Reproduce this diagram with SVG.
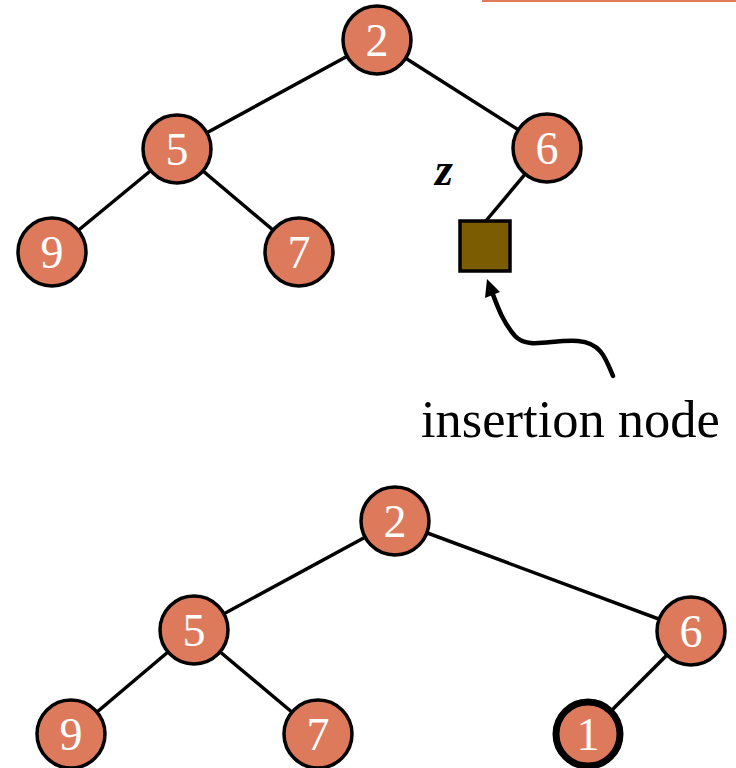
<svg xmlns="http://www.w3.org/2000/svg" width="736" height="768" viewBox="0 0 736 768">
  <style>
    .edge { stroke: #000; stroke-width: 3.5; fill: none; }
    .pointer { stroke: #000; stroke-width: 4.5; fill: none; stroke-linecap: round; }
    .node circle { fill: #DE7A5C; stroke: #000; stroke-width: 3.5; }
    .node text { font-family: "Liberation Serif", "Times New Roman", serif; font-size: 46px; fill: #fff; text-anchor: middle; }
    .node.new circle { stroke-width: 7; }
    .label { font-family: "Liberation Serif", "Times New Roman", serif; fill: #000; }
  </style>

  <!-- accent rule at the top edge -->
  <rect x="482" y="0" width="254" height="2" fill="#E07A5A"/>

  <!-- connectors -->
  <g id="connectors">
    <line class="edge" x1="377" y1="40" x2="177" y2="149"/>
    <line class="edge" x1="377" y1="40" x2="547" y2="148"/>
    <line class="edge" x1="177" y1="149" x2="52" y2="252"/>
    <line class="edge" x1="177" y1="149" x2="299" y2="252"/>
    <line class="edge" x1="547" y1="148" x2="485" y2="222"/>
    <line class="edge" x1="395" y1="521" x2="194" y2="630"/>
    <line class="edge" x1="395" y1="521" x2="691" y2="631"/>
    <line class="edge" x1="194" y1="630" x2="71" y2="734"/>
    <line class="edge" x1="194" y1="630" x2="318" y2="734"/>
    <line class="edge" x1="691" y1="631" x2="588" y2="734"/>
    <!-- curved pointer to the insertion square, with its head -->
    <path class="pointer" d="M613,376 C605,356 600,343 578,341 C552,339 528,350 515,336 C503,322 498,308 492,292"/>
    <polygon points="487,279 500,292 485,298" fill="#000"/>
  </g>

  <!-- top tree -->
  <g id="t-2" class="node"><circle cx="377" cy="40" r="34"/><text x="377" y="56">2</text></g>
  <g id="t-5" class="node"><circle cx="177" cy="149" r="34"/><text x="177" y="165">5</text></g>
  <g id="t-6" class="node"><circle cx="547" cy="148" r="34"/><text x="547" y="164">6</text></g>
  <g id="t-9" class="node"><circle cx="52" cy="252" r="34"/><text x="52" y="268">9</text></g>
  <g id="t-7" class="node"><circle cx="299" cy="252" r="34"/><text x="299" y="268">7</text></g>
  <g id="t-z">
    <rect x="460" y="221" width="50" height="50" fill="#7B5C02" stroke="#000" stroke-width="3.5"/>
    <text class="label" x="444" y="185" font-size="46" font-style="italic" font-weight="bold" text-anchor="middle">z</text>
  </g>
  <g id="insertion-label">
    <text class="label" x="421" y="437" font-size="52.5">insertion node</text>
  </g>

  <!-- bottom tree -->
  <g id="b-2" class="node"><circle cx="395" cy="521" r="34"/><text x="395" y="537">2</text></g>
  <g id="b-5" class="node"><circle cx="194" cy="630" r="34"/><text x="194" y="646">5</text></g>
  <g id="b-6" class="node"><circle cx="691" cy="631" r="34"/><text x="691" y="647">6</text></g>
  <g id="b-9" class="node"><circle cx="71" cy="734" r="34"/><text x="71" y="750">9</text></g>
  <g id="b-7" class="node"><circle cx="318" cy="734" r="34"/><text x="318" y="750">7</text></g>
  <g id="b-1" class="node new"><circle cx="588" cy="734" r="32"/><text x="588" y="750">1</text></g>
</svg>
